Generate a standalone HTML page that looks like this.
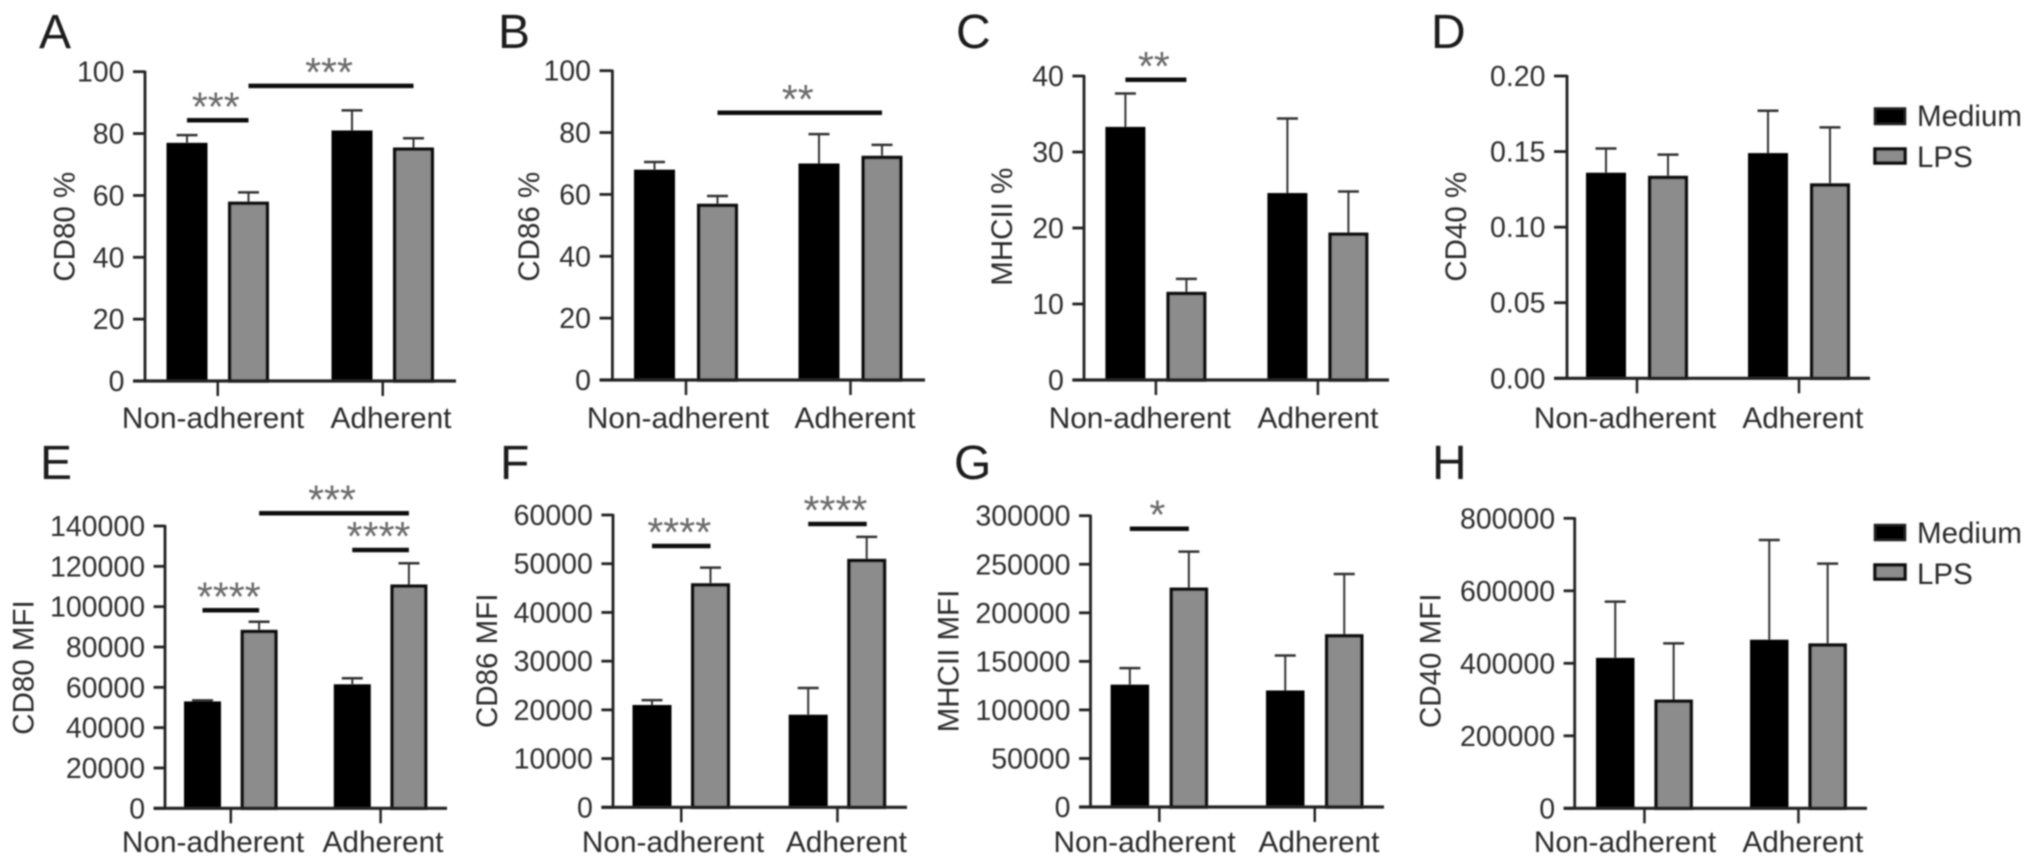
<!DOCTYPE html>
<html>
<head>
<meta charset="utf-8">
<title>CD marker expression bar charts</title>
<style>
html,body{margin:0;padding:0;background:#fff;width:2032px;height:865px;overflow:hidden}
svg{display:block}
text{font-family:"Liberation Sans",Arial,sans-serif}
</style>
</head>
<body>
<svg id="figure" xmlns="http://www.w3.org/2000/svg" width="2032" height="865" viewBox="0 0 2032 865">
  <defs><filter id="soft" x="0" y="0" width="100%" height="100%"><feGaussianBlur stdDeviation="0.8"/></filter></defs>
  <rect width="2032" height="865" fill="#fff"/>
  <g id="root" filter="url(#soft)">
    <g>
      <rect x="1875" y="108.5" width="30" height="15.5" fill="#000" stroke="#222" stroke-width="2.5"/>
      <text x="1917" y="126" font-size="29.5" fill="#2a2a2a">Medium</text>
      <rect x="1875" y="149" width="30" height="14" fill="#8c8c8c" stroke="#111" stroke-width="3.5"/>
      <text x="1917" y="167" font-size="29.5" fill="#2a2a2a">LPS</text>
    </g>
    <g>
      <rect x="1875" y="525" width="30" height="15" fill="#000" stroke="#222" stroke-width="2.5"/>
      <text x="1917" y="543" font-size="29.5" fill="#2a2a2a">Medium</text>
      <rect x="1875" y="565" width="30" height="14" fill="#8c8c8c" stroke="#111" stroke-width="3.5"/>
      <text x="1917" y="584" font-size="29.5" fill="#2a2a2a">LPS</text>
    </g>
  </g>
</svg>
<script>
const groupNames = ['Non-adherent', 'Adherent'];
const seriesNames = ['Medium', 'LPS'];

const cd80PctValues = [77, 58, 81, 75.5];
const cd80PctErrTops = [79.5, 61, 87.5, 78.5];
const cd80PctTicks = [0, 20, 40, 60, 80, 100];
const cd80PctSig = [[0, 1, 84.3, '***'], [1, 3, 95.4, '***']];

const cd86PctValues = [68, 57, 70, 72.5];
const cd86PctErrTops = [70.5, 59.5, 79.5, 76];
const cd86PctTicks = [0, 20, 40, 60, 80, 100];
const cd86PctSig = [[1, 3, 86.4, '**']];

const mhcPctValues = [33.3, 11.6, 24.6, 19.4];
const mhcPctErrTops = [37.7, 13.3, 34.4, 24.8];
const mhcPctTicks = [0, 10, 20, 30, 40];
const mhcPctSig = [[0, 1, 39.5, '**']];

const cd40PctValues = [0.136, 0.134, 0.149, 0.129];
const cd40PctErrTops = [0.152, 0.148, 0.177, 0.166];
const cd40PctTicks = ['0.00', '0.05', '0.10', '0.15', '0.20'];
const cd40PctSig = [];

const cd80MfiValues = [53000, 88500, 61500, 111000];
const cd80MfiErrTops = [53500, 92500, 64500, 121500];
const cd80MfiTicks = [0, 20000, 40000, 60000, 80000, 100000, 120000, 140000];
const cd80MfiSig = [[0, 1, 98200, '****'], [1, 3, 146300, '***'], [2, 3, 128100, '****']];

const cd86MfiValues = [21000, 46000, 19000, 51000];
const cd86MfiErrTops = [22000, 49200, 24500, 55500];
const cd86MfiTicks = [0, 10000, 20000, 30000, 40000, 50000, 60000];
const cd86MfiSig = [[0, 1, 53640, '****'], [2, 3, 58150, '****']];

const mhcMfiValues = [126000, 226000, 120000, 178000];
const mhcMfiErrTops = [143000, 263000, 156000, 240000];
const mhcMfiTicks = [0, 50000, 100000, 150000, 200000, 250000, 300000];
const mhcMfiSig = [[0, 1, 286600, '*']];

const cd40MfiValues = [415000, 300000, 465000, 455000];
const cd40MfiErrTops = [570000, 455000, 740000, 675000];
const cd40MfiTicks = [0, 200000, 400000, 600000, 800000];
const cd40MfiSig = [];

const panels = [
  {id:'a', letter:'A', lx:39, ly:48, title:'CD80 %', tx:63.5, ty:226.7, axisX:145, tickL:133, xEnd:456, y0:381, yTop:71.7, bar0:166.5, pair:61.5, grp:165, bw:41, l1:213, l2:391, ly2:428, values:cd80PctValues, tops:cd80PctErrTops, ticks:cd80PctTicks, sig:cd80PctSig},
  {id:'b', letter:'B', lx:498, ly:48, title:'CD86 %', tx:528, ty:226.7, axisX:612.4, tickL:599.5, xEnd:925, y0:380, yTop:70.7, bar0:634, pair:63, grp:164.5, bw:41, l1:678, l2:855, ly2:428, values:cd86PctValues, tops:cd86PctErrTops, ticks:cd86PctTicks, sig:cd86PctSig},
  {id:'c', letter:'C', lx:956, ly:48, title:'MHCII %', tx:1001, ty:226.7, axisX:1084, tickL:1072.4, xEnd:1389, y0:380, yTop:76, bar0:1105.4, pair:61, grp:162, bw:40, l1:1139.8, l2:1318, ly2:428, values:mhcPctValues, tops:mhcPctErrTops, ticks:mhcPctTicks, sig:mhcPctSig},
  {id:'d', letter:'D', lx:1431, ly:48, title:'CD40 %', tx:1455, ty:226.7, axisX:1567, tickL:1554, xEnd:1870, y0:378.3, yTop:76, bar0:1586, pair:62, grp:162, bw:40, l1:1625, l2:1802.8, ly2:428, values:cd40PctValues, tops:cd40PctErrTops, ticks:cd40PctTicks, sig:cd40PctSig},
  {id:'e', letter:'E', lx:40, ly:479, title:'CD80 MFI', tx:22.7, ty:667.5, axisX:165, tickL:153.6, xEnd:447, y0:808.3, yTop:526, bar0:184, pair:56.6, grp:149.8, bw:37, l1:213, l2:383, ly2:852, values:cd80MfiValues, tops:cd80MfiErrTops, ticks:cd80MfiTicks, sig:cd80MfiSig},
  {id:'f', letter:'F', lx:500, ly:479, title:'CD86 MFI', tx:486, ty:660.8, axisX:613, tickL:601.4, xEnd:907, y0:807.3, yTop:515, bar0:632.5, pair:58.5, grp:156.2, bw:39, l1:673, l2:846.4, ly2:852, values:cd86MfiValues, tops:cd86MfiErrTops, ticks:cd86MfiTicks, sig:cd86MfiSig},
  {id:'g', letter:'G', lx:954, ly:479, title:'MHCII MFI', tx:947.5, ty:661, axisX:1090.5, tickL:1079, xEnd:1384, y0:807, yTop:515.7, bar0:1110.6, pair:59, grp:155.4, bw:38.5, l1:1144.6, l2:1319, ly2:852, values:mhcMfiValues, tops:mhcMfiErrTops, ticks:mhcMfiTicks, sig:mhcMfiSig},
  {id:'h', letter:'H', lx:1432, ly:479, title:'CD40 MFI', tx:1429.5, ty:660.8, axisX:1574.7, tickL:1563.6, xEnd:1867, y0:808.3, yTop:518.3, bar0:1596, pair:58.4, grp:154, bw:38.5, l1:1625, l2:1802.8, ly2:852, values:cd40MfiValues, tops:cd40MfiErrTops, ticks:cd40MfiTicks, sig:cd40MfiSig}
];

const NS = 'http://www.w3.org/2000/svg';
const root = document.getElementById('root');

function make(parent, tag, attrs, content) {
  const node = document.createElementNS(NS, tag);
  for (const k in attrs) node.setAttribute(k, attrs[k]);
  if (content !== undefined) node.textContent = content;
  parent.appendChild(node);
  return node;
}

panels.forEach(function (p) {
  const g = make(root, 'g', {});
  
  

  const maxTick = Number(p.ticks[p.ticks.length - 1]);
  const yScale = function (v) { return p.y0 - (Number(v) / maxTick) * (p.y0 - p.yTop); };
  const xScale = function (i) { return p.bar0 + (i % 2) * p.pair + Math.floor(i / 2) * p.grp; };
  const xCentre = function (i) { return xScale(i) + p.bw / 2; };

  let el = make(g, 'text', {x: p.lx, y: p.ly, 'font-size': 48, fill: '#1a1a1a'}, p.letter);
  
  

  el = make(g, 'text', {x: 0, y: 0, 'font-size': 29.5, fill: '#2a2a2a', 'text-anchor': 'middle', transform: 'translate(' + (p.tx + 11) + ',' + p.ty + ') rotate(-90)'}, p.title);
  
  

  p.values.forEach(function (v, i) {
    const isLps = i % 2 === 1;
    const top = yScale(v);
    const x = xScale(i);
    if (isLps) {
      el = make(g, 'rect', {x: x + 1.75, y: top + 1.75, width: p.bw - 3.5, height: p.y0 - top - 1.75, fill: '#8c8c8c', stroke: '#111', 'stroke-width': 3.5});
    } else {
      el = make(g, 'rect', {x: x, y: top, width: p.bw, height: p.y0 - top, fill: '#000'});
    }
    
    

    const errTop = yScale(p.tops[i]);
    el = make(g, 'line', {x1: xCentre(i), x2: xCentre(i), y1: top, y2: errTop, stroke: '#333', 'stroke-width': 2});
    
    

    el = make(g, 'line', {x1: xCentre(i) - 10.5, x2: xCentre(i) + 10.5, y1: errTop, y2: errTop, stroke: '#333', 'stroke-width': 2.5});
    
    
  });

  el = make(g, 'line', {x1: p.axisX, x2: p.axisX, y1: p.yTop - 1, y2: p.y0, stroke: '#222', 'stroke-width': 2.8});
  
  

  el = make(g, 'line', {x1: p.tickL, x2: p.xEnd, y1: p.y0, y2: p.y0, stroke: '#222', 'stroke-width': 3.2});
  
  

  p.ticks.forEach(function (t) {
    const y = yScale(t);
    el = make(g, 'line', {x1: p.tickL, x2: p.axisX, y1: y, y2: y, stroke: '#222', 'stroke-width': 2.8});
    
    

    el = make(g, 'text', {x: p.tickL - 8.5, y: y + 10, 'font-size': 28.5, fill: '#2f2f2f', 'text-anchor': 'end'}, String(t));
    
    
  });

  groupNames.forEach(function (name, gi) {
    const mid = (xCentre(gi * 2) + xCentre(gi * 2 + 1)) / 2;
    el = make(g, 'line', {x1: mid, x2: mid, y1: p.y0, y2: p.y0 + 15, stroke: '#222', 'stroke-width': 2.5});
    
    

    el = make(g, 'text', {x: gi === 0 ? p.l1 : p.l2, y: p.ly2, 'font-size': 29.8, fill: '#2a2a2a', 'text-anchor': 'middle'}, name);
    
    
  });

  p.sig.forEach(function (s) {
    const y = yScale(s[2]);
    const x1 = xCentre(s[0]);
    const x2 = xCentre(s[1]);
    el = make(g, 'line', {x1: x1, x2: x2, y1: y, y2: y, stroke: '#111', 'stroke-width': 4.5});
    
    

    el = make(g, 'text', {x: (x1 + x2) / 2 - 2, y: y, 'font-size': 41, fill: '#6a6a6a', 'text-anchor': 'middle'}, s[3]);
    
    
  });
});
</script>
</body>
</html>
